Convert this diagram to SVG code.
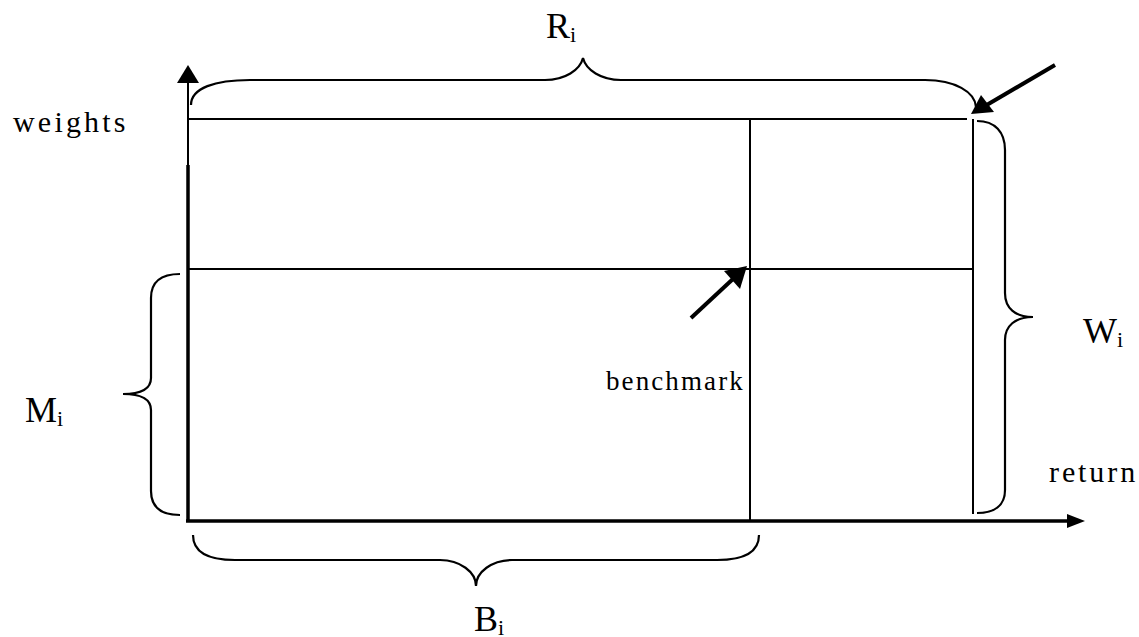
<svg xmlns="http://www.w3.org/2000/svg" width="1139" height="637" viewBox="0 0 1139 637">
<style>
.t{font-family:"Liberation Serif","Times New Roman",serif;fill:#000}
.big{font-size:36px}
.sub{font-size:22px}
.g{stroke:#000;stroke-width:2;fill:none}
.br{stroke:#000;stroke-width:2.2;fill:none}
.ax{stroke:#000;fill:none}
.ar{stroke:#000;stroke-width:4;fill:none}
.hd{fill:#000}
</style>
<rect width="1139" height="637" fill="#fff"/>
<g id="connectors">
<line class="ax" x1="188" y1="521" x2="188" y2="165" stroke-width="3.5"/>
<line class="ax" x1="188" y1="166" x2="188" y2="80" stroke-width="2"/>
<polygon class="hd" points="188,65 177,83 199,83"/>
<line class="ax" x1="186" y1="521" x2="1069" y2="521" stroke-width="3.5"/>
<polygon class="hd" points="1085,521 1067,514 1067,528"/>
<line class="ar" x1="1055" y1="65" x2="985" y2="106"/>
<polygon class="hd" points="971,114 981,95 994,112"/>
<line class="ar" x1="691" y1="318" x2="734" y2="278"/>
<polygon class="hd" points="747,266 740,289 724,271"/>
</g>
<g id="grid">
<line class="g" x1="188" y1="119" x2="967" y2="119"/>
<line class="g" x1="188" y1="269" x2="973" y2="269"/>
<line class="g" x1="750" y1="119" x2="750" y2="521"/>
<line class="g" x1="973" y1="119" x2="973" y2="514"/>
</g>
<g id="brace-R">
<path class="br" d="M191,105 C191,88 215,80 250,80 L545,80 C565,80 580,70 583,58 C586,70 601,80 621,80 L925,80 C955,80 975,92 976,107"/>
<text class="t big" x="546" y="38">R<tspan class="sub" dy="4">i</tspan></text>
</g>
<g id="brace-M">
<path class="br" d="M180,274 C160,274 151,282 151,298 L151,378 C151,390 140,394 123,394 C140,394 151,398 151,410 L151,491 C151,507 160,515 180,515"/>
<text class="t big" x="25" y="422">M<tspan class="sub" dy="4">i</tspan></text>
</g>
<g id="brace-W">
<path class="br" d="M977,121 C995,121 1005,132 1005,150 L1005,293 C1005,308 1015,317 1033,317 C1015,317 1005,326 1005,340 L1005,490 C1005,505 995,513 977,513"/>
<text class="t big" x="1083" y="343">W<tspan class="sub" dy="4">i</tspan></text>
</g>
<g id="brace-B">
<path class="br" d="M193,535 C193,550 205,560 235,560 L440,560 C460,560 476,572 476,586 C476,572 492,560 512,560 L717,560 C747,560 759,550 759,535"/>
<text class="t big" x="474" y="631">B<tspan class="sub" dy="4">i</tspan></text>
</g>
<g id="labels">
<text class="t" x="13" y="132" font-size="30" letter-spacing="3.2">weights</text>
<text class="t" x="606" y="390" font-size="27" letter-spacing="2.1">benchmark</text>
<text class="t" x="1049" y="482" font-size="30" letter-spacing="2.9">return</text>
</g>
</svg>
